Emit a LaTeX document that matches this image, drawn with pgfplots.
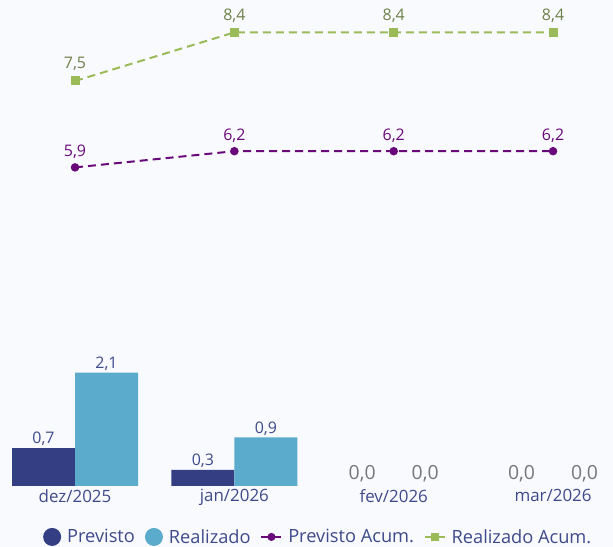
\documentclass[border=0pt]{standalone}
\usepackage{pgfplots}
\pgfplotsset{compat=1.18}
\usepackage{fontspec}
\setmainfont{Open Sans}
\definecolor{bg}{HTML}{F8FAFE}
\definecolor{prev}{HTML}{343E82}
\definecolor{real}{HTML}{5BABCD}
\definecolor{pacum}{HTML}{6A0A7A}
\definecolor{racum}{HTML}{9BBB59}
\definecolor{txt}{HTML}{3F4A8A}
\definecolor{gtxt}{HTML}{6E8048}
\definecolor{ztxt}{HTML}{777777}
\pgfplotsset{
  lbl/.style={nodes near coords={\pgfmathprintnumber[fixed,fixed zerofill,precision=1,use comma,assume math mode=true]{\pgfplotspointmeta}},
    every node near coord/.append style={font=\fontsize{16}{19}\selectfont, text=#1, inner sep=2bp}},
  barleg/.style={legend image code/.code={\fill[##1] (9bp,0bp) circle (9bp);}},
  lineleg/.style={legend image code/.code={\draw[mark repeat=2,mark phase=2,##1,solid,line width=1.6bp] plot coordinates {(0bp,0bp)(10bp,0bp)(20bp,0bp)};}},
}
\begin{document}
\begin{tikzpicture}[x=1bp,y=1bp]
\fill[bg] (0,0) rectangle (613,547);
\useasboundingbox (0,0) rectangle (613,547);
\begin{axis}[
  at={(11.3bp,61bp)}, anchor=south west,
  scale only axis, width=597.5bp, height=480.6bp,
  xmin=-0.4, xmax=3.35, ymin=0, ymax=8.9,
  clip=false,
  axis line style={draw=none},
  ytick=\empty,
  xtick={0,1,2,3},
  xticklabels={dez/2025,jan/2026,fev/2026,mar/2026},
  major tick length=0pt,
  xticklabel style={font=\fontsize{17}{20}\selectfont, text=txt},
  legend style={at={(0.512,-0.106)}, anchor=center, legend columns=-1, draw=none, fill=none,
    font=\fontsize{18.3}{21}\selectfont, text=txt, nodes={inner sep=0bp},
    /tikz/every odd column/.append style={column sep=6bp},
    /tikz/every even column/.append style={column sep=10bp}},
]
\addplot[ybar, bar width=63bp, bar shift=-31.5bp, fill=prev, draw=none, lbl=txt, barleg,
  every node near coord/.append style={xshift=-31.5bp}] coordinates {(0,0.7)(1,0.3)};
\addlegendentry{Previsto}
\addplot[ybar, bar width=63bp, bar shift=31.5bp, fill=real, draw=none, lbl=txt, barleg,
  every node near coord/.append style={xshift=31.5bp}] coordinates {(0,2.1)(1,0.9)};
\addlegendentry{Realizado}
\addplot[pacum, line width=2bp, dash pattern=on 8bp off 5bp, mark=*, mark size=3.2bp, mark options={solid}, lbl=pacum, lineleg,
  every node near coord/.append style={yshift=6bp}] coordinates {(0,5.9)(1,6.2)(2,6.2)(3,6.2)};
\addlegendentry{Previsto Acum.}
\addplot[racum, line width=2bp, dash pattern=on 8bp off 5bp, mark=square*, mark size=3.5bp, mark options={solid}, lbl=gtxt, lineleg,
  every node near coord/.append style={yshift=7bp}] coordinates {(0,7.5)(1,8.4)(2,8.4)(3,8.4)};
\addlegendentry{Realizado Acum.}
\addplot[ybar, bar width=63bp, bar shift=-31.5bp, draw=none, fill=none, lbl=ztxt, forget plot,
  every node near coord/.append style={font=\fontsize{19.5}{22}\selectfont, xshift=-31.5bp, yshift=2bp}] coordinates {(2,0)(3,0)};
\addplot[ybar, bar width=63bp, bar shift=31.5bp, draw=none, fill=none, lbl=ztxt, forget plot,
  every node near coord/.append style={font=\fontsize{19.5}{22}\selectfont, xshift=31.5bp, yshift=2bp}] coordinates {(2,0)(3,0)};
\end{axis}
\end{tikzpicture}
\end{document}
